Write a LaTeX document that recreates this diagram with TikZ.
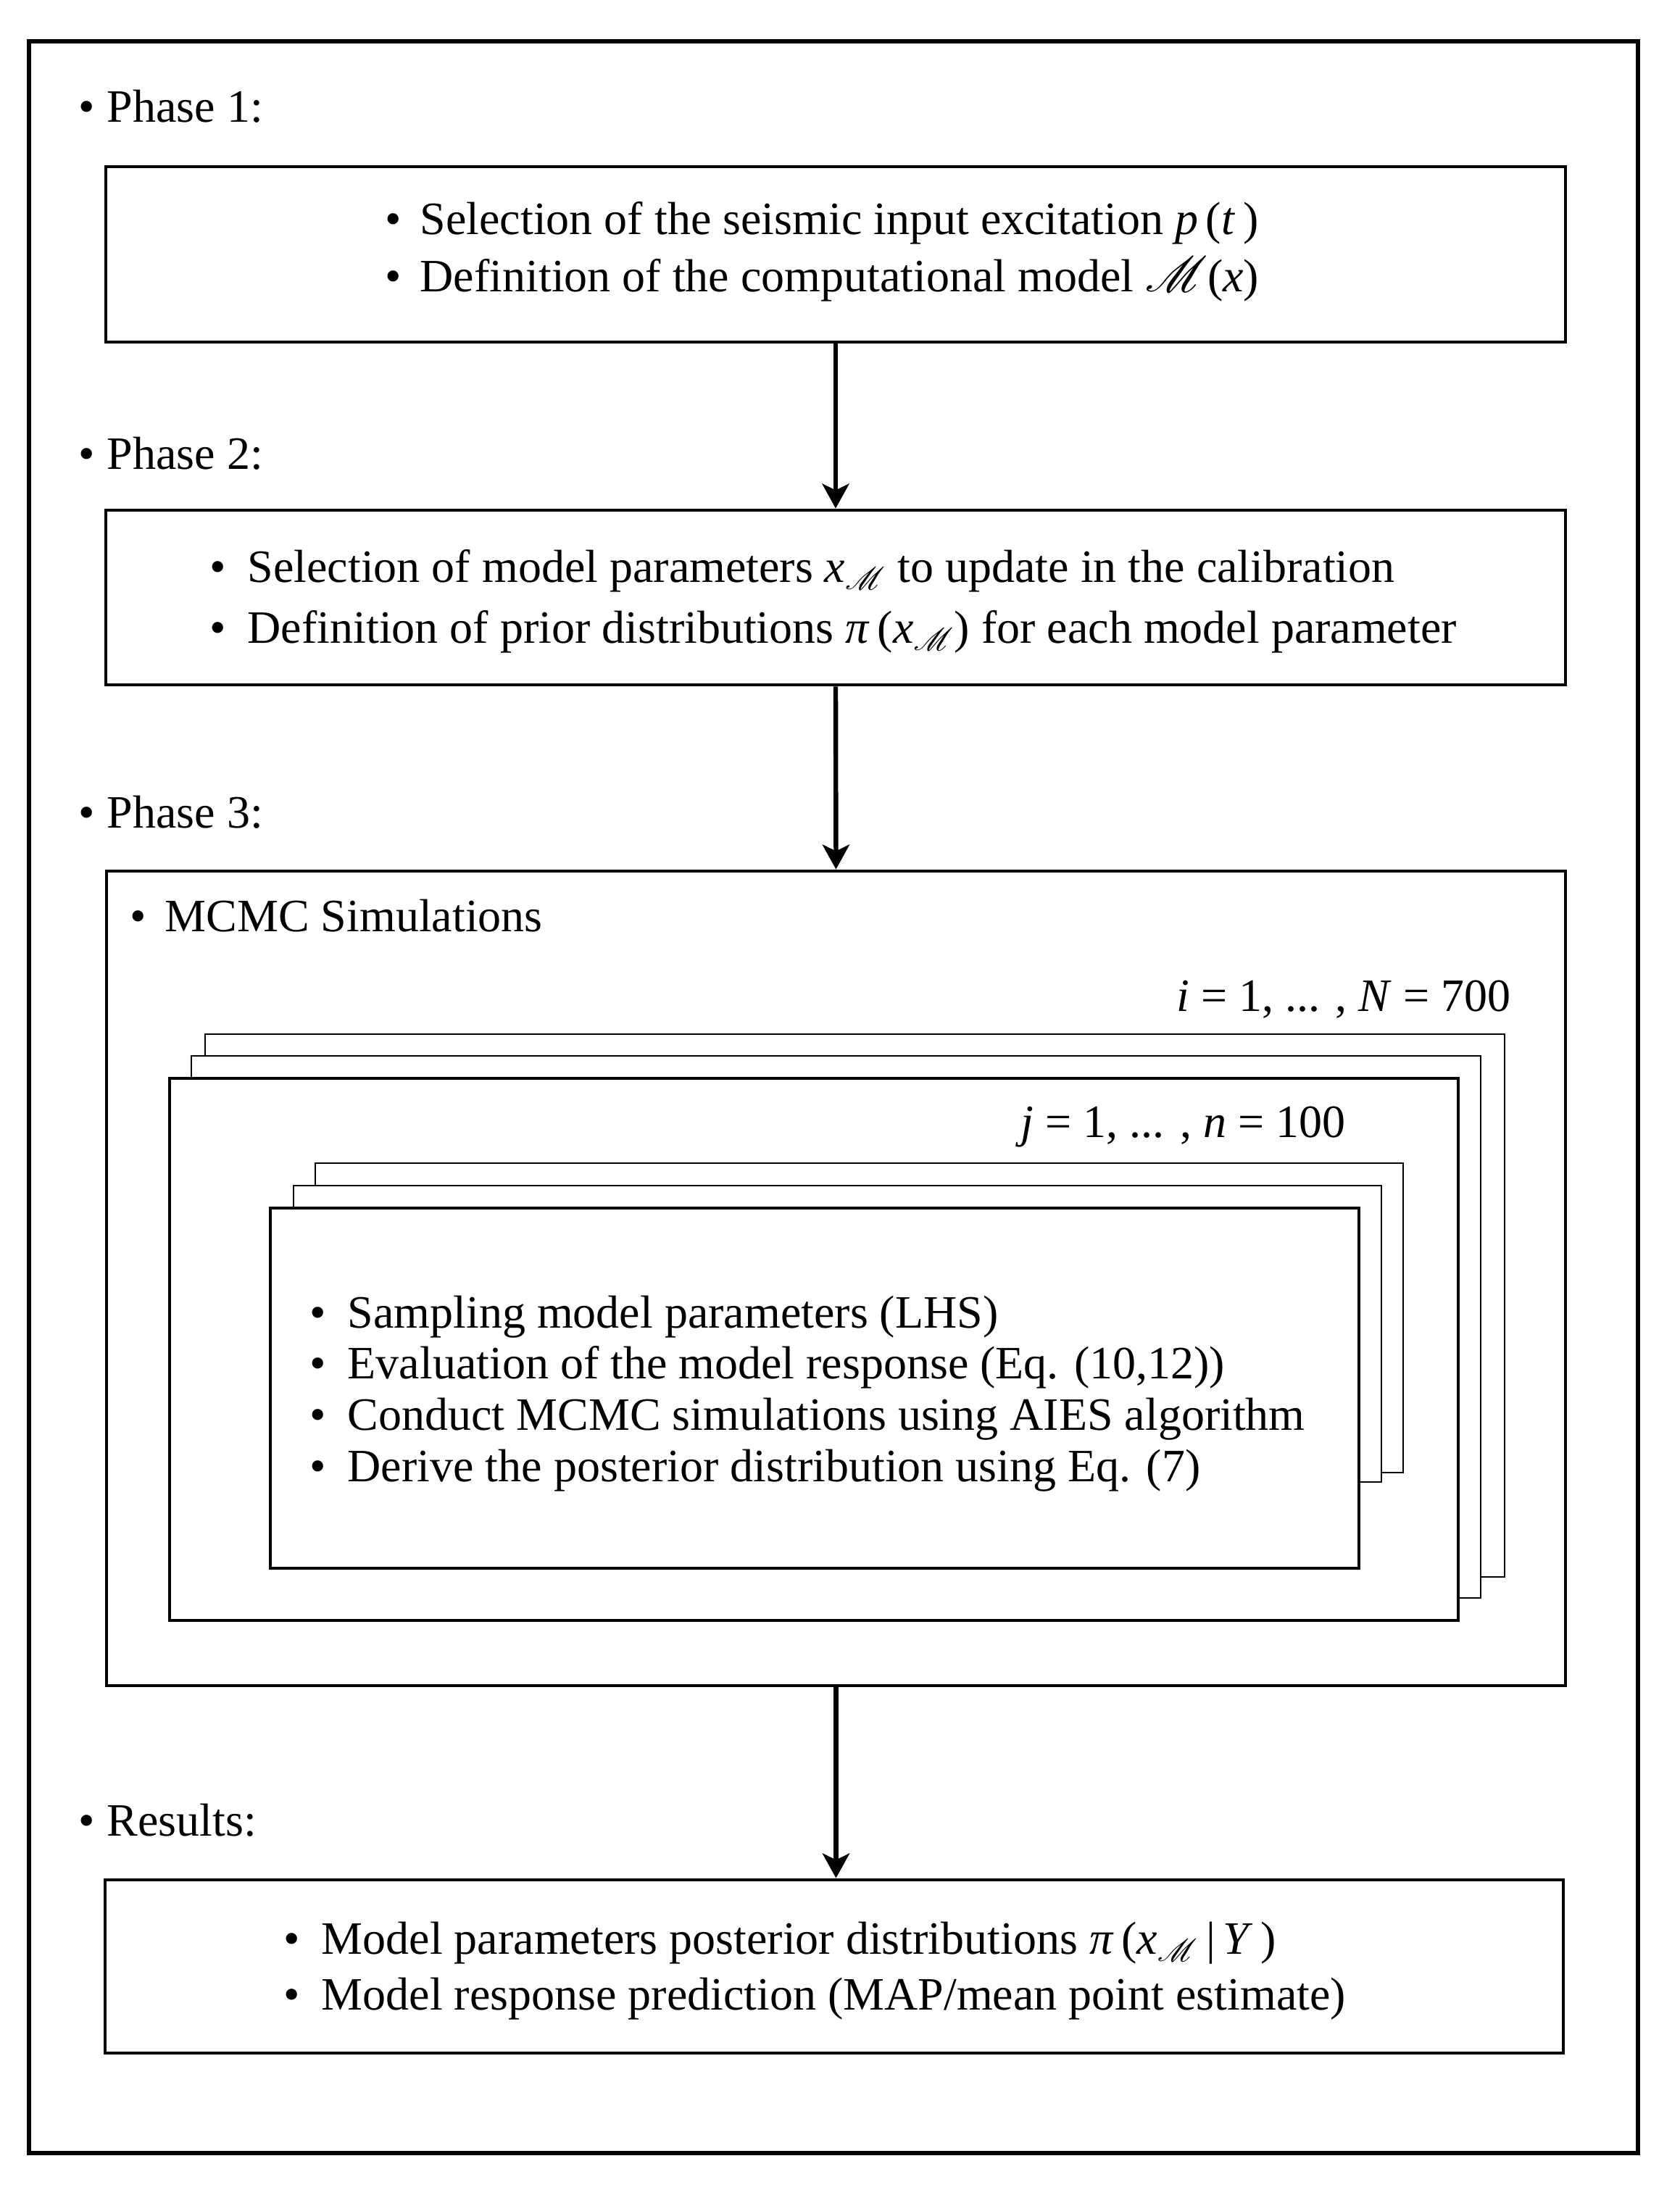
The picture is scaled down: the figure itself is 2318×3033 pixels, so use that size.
\documentclass[tikz,border=0pt]{standalone}
\usepackage{fontspec}
\setmainfont{Liberation Serif}
\usepackage{mathrsfs}
\usetikzlibrary{fit,arrows.meta}
\newcommand{\bulA}[1]{\makebox[#1][l]{\textbullet}}
\newcommand{\scrM}{\ensuremath{\mathscr{M}}}
\begin{document}
\begin{tikzpicture}[x=0.25pt,y=-0.25pt,
  box/.style={draw,line width=1.2pt,inner sep=0pt,fill=white},
  frontbox/.style={draw,line width=1pt,inner sep=0pt,fill=white},
  backbox/.style={draw,line width=0.7pt,inner sep=0pt,fill=white},
  txt/.style={anchor=base west,inner sep=0pt,font=\fontsize{16pt}{19pt}\selectfont},
  rtxt/.style={anchor=base east,inner sep=0pt,font=\fontsize{16pt}{19pt}\selectfont},
  arr/.style={line width=1.6pt,-{Stealth[length=8.5pt,width=9.25pt,inset=2.2pt]}}]
\useasboundingbox (0,0) rectangle (2318,3033);
% outer frame
\node[draw,line width=1.4pt,inner sep=0pt,fit={(40,57) (2260,2971)}] (frame) {};
% phase labels
\node[txt] (ph1) at (108,168) {\bulA{9.75pt}Phase 1:};
\node[txt] (ph2) at (108,647) {\bulA{9.75pt}Phase 2:};
\node[txt] (ph3) at (108,1142) {\bulA{9.75pt}Phase 3:};
\node[txt] (res) at (108,2533) {\bulA{9.75pt}Results:};
% box 1
\node[box,fit={(146,230) (2160,472)}] (b1) {};
\node[txt] (b1a) at (531,323) {\bulA{12pt}Selection of the seismic input excitation \textit{p}\,(\textit{t}\,)};
\node[txt] (b1b) at (531,402) {\bulA{12pt}Definition of the computational model \scrM(\textit{x})};
% box 2
\node[box,fit={(146,704) (2160,945)}] (b2) {};
\node[txt] (b2a) at (289,803) {\bulA{13pt}Selection of model parameters \textit{x}$_{\mathscr{M}}$ to update in the calibration};
\node[txt] (b2b) at (289,887) {\bulA{13pt}Definition of prior distributions \textit{π}\,(\textit{x}$_{\mathscr{M}}$) for each model parameter};
% box 3
\node[box,fit={(147,1202) (2160,2326)}] (b3) {};
\node[txt] (b3a) at (179,1285) {\bulA{12pt}MCMC Simulations};
\node[rtxt] (ilab) at (2085,1395) {\textit{i} = 1, ... , \textit{N} = 700};
% outer stack
\node[backbox,fit={(283,1427) (2076,2176)}] (s1) {};
\node[backbox,fit={(264,1457) (2043,2205)}] (s2) {};
\node[frontbox,fit={(234,1488) (2012,2236)}] (s3) {};
\node[rtxt] (jlab) at (1857,1569) {\textit{j} = 1, ... , \textit{n} = 100};
% inner stack
\node[backbox,fit={(435,1605) (1936,2032)}] (t1) {};
\node[backbox,fit={(405,1636) (1906,2045)}] (t2) {};
\node[frontbox,line width=0.85pt,fit={(373,1667) (1875,2164)}] (t3) {};
\node[txt] (t3a) at (427,1832) {\bulA{13pt}Sampling model parameters (LHS)};
\node[txt] (t3b) at (427,1902) {\bulA{13pt}Evaluation of the model response (Eq. (10,12))};
\node[txt] (t3c) at (427,1973) {\bulA{13pt}Conduct MCMC simulations using AIES algorithm};
\node[txt] (t3d) at (427,2044) {\bulA{13pt}Derive the posterior distribution using Eq. (7)};
% box 4
\node[box,fit={(145,2594) (2157,2833)}] (b4) {};
\node[txt] (b4a) at (391,2696) {\bulA{13pt}Model parameters posterior distributions \textit{π}\,(\textit{x}$_{\mathscr{M}}$\,|\,\textit{Y}\,)};
\node[txt] (b4b) at (391,2773) {\bulA{13pt}Model response prediction (MAP/mean point estimate)};
% arrows
\draw[arr] (b1.south) -- (b2.north);
\draw[arr] (b2.south) -- (b3.north);
\draw[arr] (b3.south) -- (b3.south |- b4.north);
\end{tikzpicture}
\end{document}
